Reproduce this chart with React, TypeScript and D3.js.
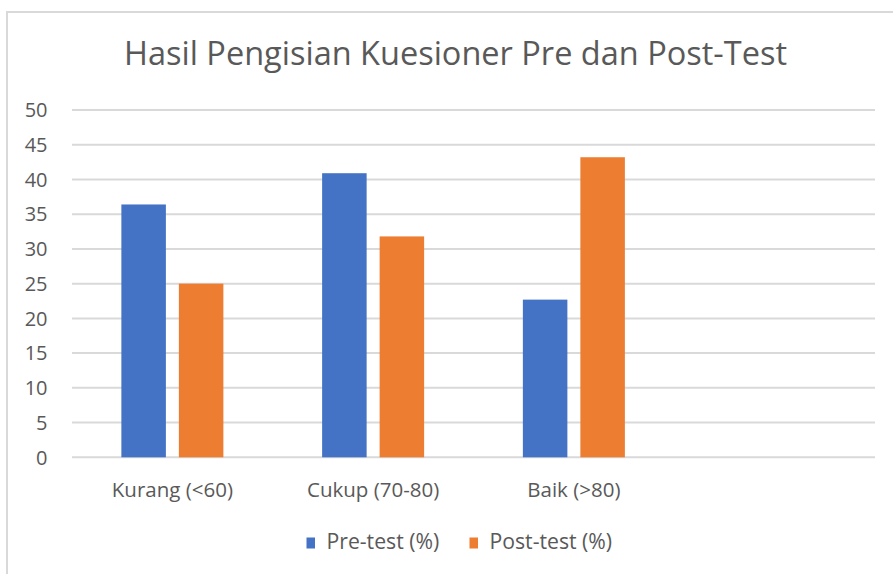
import React from "react";
import * as d3 from "d3";

const categories = ["Kurang (<60)", "Cukup (70-80)", "Baik (>80)", ""];
const preTest = [36.4, 40.9, 22.7, null];
const postTest = [25.0, 31.8, 43.2, null];
const seriesNames = ["Pre-test (%)", "Post-test (%)"];
const seriesColors = ["#4472C4", "#ED7D31"];
const yTicks = [0, 5, 10, 15, 20, 25, 30, 35, 40, 45, 50];
const title = "Hasil Pengisian Kuesioner Pre dan Post-Test";

const W = 893;
const H = 574;
const FONT = "'Open Sans', 'Noto Sans', sans-serif";
const TEXT = "#595959";
const GRID = "#d9d9d9";

export default function App() {
  const x = d3.scaleBand<string>().domain(categories.map((c, i) => String(i))).range([72, 875]).paddingInner(0).paddingOuter(0);
  const y = d3.scaleLinear().domain([0, 50]).range([457.3, 110]);
  const series = [preTest, postTest];
  const inner = d3.scaleBand<string>().domain(["0", "1"]).range([-51, 51]).paddingInner(0.226).paddingOuter(0);

  const legendX = [306.5, 469.5];

  return (
    <div>
      <style>{`body{margin:0;background:#fff}`}</style>
      <svg width={W} height={H} style={{ display: "block", fontFamily: FONT }}>
        <rect x={0} y={0} width={W} height={H} fill="#fff" />
        {/* chart border */}
        <line x1={7} y1={12} x2={W} y2={12} stroke={GRID} strokeWidth={2} />
        <line x1={7} y1={11} x2={7} y2={H} stroke={GRID} strokeWidth={2} />

        <text x={455.5} y={65} textAnchor="middle" fontSize={32.5} fill={TEXT}>
          {title}
        </text>

        {yTicks.map((t) => (
          <g key={t}>
            <line x1={72} x2={875} y1={y(t)} y2={y(t)} stroke={GRID} strokeWidth={2} />
            <text x={47.5} y={y(t)} dy="0.36em" textAnchor="end" fontSize={20} fill={TEXT}>
              {t}
            </text>
          </g>
        ))}

        {categories.map((c, i) => {
          const cx = (x(String(i)) as number) + x.bandwidth() / 2;
          return (
            <g key={i}>
              {series.map((s, si) => {
                const v = s[i];
                if (v === null || v === undefined) return null;
                const bx = cx + (inner(String(si)) as number);
                return (
                  <rect
                    key={si}
                    x={bx}
                    y={y(v)}
                    width={inner.bandwidth()}
                    height={y(0) - y(v)}
                    fill={seriesColors[si]}
                  />
                );
              })}
              {c && (
                <text x={cx} y={497} textAnchor="middle" fontSize={20.5} fill={TEXT}>
                  {c}
                </text>
              )}
            </g>
          );
        })}

        {seriesNames.map((n, i) => (
          <g key={n}>
            <rect x={legendX[i]} y={537.5} width={8.5} height={11} fill={seriesColors[i]} />
            <text x={legendX[i] + 20} y={549} fontSize={21.2} fill={TEXT}>
              {n}
            </text>
          </g>
        ))}
      </svg>
    </div>
  );
}
